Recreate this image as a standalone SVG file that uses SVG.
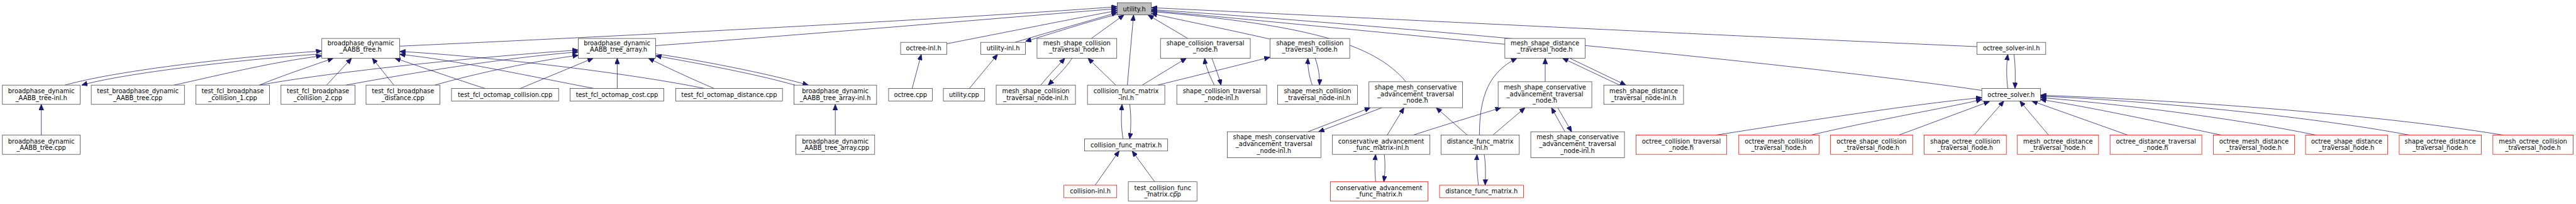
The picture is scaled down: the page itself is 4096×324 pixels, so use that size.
<svg xmlns="http://www.w3.org/2000/svg" width="4096" height="324" viewBox="0 0 4096 324">
<style>
.n rect{fill:#ffffff;stroke:#404040;stroke-width:1}
.r rect{fill:#ffffff;stroke:#ff0000;stroke-width:1}
.g rect{fill:#bfbfbf;stroke:#404040;stroke-width:1}
text{font-family:"DejaVu Sans","Liberation Sans",sans-serif;font-size:13px;fill:#000000;text-anchor:middle}
#edges path{fill:none;stroke:#191970;stroke-width:1;marker-end:url(#ah)}
</style>
<defs>
<marker id="ah" viewBox="0 0 12 10" refX="12" refY="5" markerWidth="12" markerHeight="10" markerUnits="userSpaceOnUse" orient="auto">
<path d="M0,0 L12,5 L0,10 z" fill="#191970" stroke="#191970"/>
</marker>
</defs>
<rect x="0" y="0" width="4096" height="324" fill="#ffffff"/>
<g transform="scale(0.76375)">
<g id="edges">
<path d="M86,281 L86,217"/>
<path d="M135,177 C250,145 500,118 670,106"/>
<path d="M670,112 C500,124 260,152 170,177"/>
<path d="M362,177 C450,158 560,130 670,116"/>
<path d="M540,177 C580,160 640,140 694,121"/>
<path d="M680,177 L732,121"/>
<path d="M820,177 L775,121"/>
<path d="M1010,184 C950,165 880,140 822,121"/>
<path d="M1237,184 C1100,158 950,125 832,113"/>
<path d="M1467,184 C1300,150 1000,116 832,107"/>
<path d="M540,177 C700,148 1000,118 1204,104"/>
<path d="M720,177 C850,153 1050,120 1204,108"/>
<path d="M905,177 C1000,150 1120,126 1204,115"/>
<path d="M1083,184 L1235,121"/>
<path d="M1285,184 L1285,121"/>
<path d="M1487,184 C1430,160 1380,136 1350,121"/>
<path d="M1655,177 C1560,150 1420,126 1365,116"/>
<path d="M1365,112 C1450,124 1600,153 1683,177"/>
<path d="M1739,281 L1739,217"/>
<path d="M832,96 C1400,70 2000,38 2326,14"/>
<path d="M1365,95 C1800,62 2100,36 2326,18"/>
<path d="M1971,91 C2150,56 2250,36 2326,22"/>
<path d="M2113,88 C2200,62 2280,40 2326,26"/>
<path d="M2326,30 C2260,46 2190,70 2135,86"/>
<path d="M2018,184 L2077,113"/>
<path d="M1899,184 L1918,113"/>
<path d="M2272,80 L2340,31"/>
<path d="M2167,177 C2180,160 2200,140 2217,121"/>
<path d="M2232,121 C2220,140 2200,160 2182,177"/>
<path d="M2347,177 L2360,31"/>
<path d="M2323,177 L2265,121"/>
<path d="M2378,177 L2470,121"/>
<path d="M2410,177 C2500,155 2580,135 2644,119"/>
<path d="M2473,80 L2390,31"/>
<path d="M2528,177 C2520,160 2510,140 2508,121"/>
<path d="M2523,121 C2530,140 2538,160 2542,177"/>
<path d="M2643,81 C2550,60 2450,40 2397,28"/>
<path d="M2732,177 C2726,160 2722,140 2723,121"/>
<path d="M2738,121 C2745,140 2748,160 2747,177"/>
<path d="M2338,289 C2334,265 2334,240 2336,217"/>
<path d="M2352,217 C2355,240 2355,265 2352,289"/>
<path d="M2280,385 L2330,314"/>
<path d="M2404,378 L2357,314"/>
<path d="M2927,170 C2860,90 2720,52 2397,24"/>
<path d="M2723,274 L2853,224"/>
<path d="M2877,224 L2745,274"/>
<path d="M2888,281 L2923,224"/>
<path d="M2942,281 C3000,262 3080,238 3125,224"/>
<path d="M2864,378 C2862,355 2862,340 2864,321"/>
<path d="M2882,321 C2884,340 2884,355 2881,378"/>
<path d="M3055,281 L2990,224"/>
<path d="M3080,281 C3080,200 3100,150 3158,121"/>
<path d="M3108,281 L3175,224"/>
<path d="M3078,385 C3075,360 3074,340 3075,321"/>
<path d="M3090,321 C3093,340 3093,360 3092,385"/>
<path d="M3133,92 C2900,70 2600,40 2397,22"/>
<path d="M3372,177 L3253,121"/>
<path d="M3268,121 L3385,177"/>
<path d="M3217,170 L3217,121"/>
<path d="M3258,274 L3230,224"/>
<path d="M3243,224 L3272,274"/>
<path d="M4116,97 C3500,70 2800,35 2397,16"/>
<path d="M4126,188 C3800,140 3000,60 2397,20"/>
<path d="M4180,184 C4177,160 4177,135 4180,113"/>
<path d="M4193,113 C4196,135 4196,160 4195,184"/>
<path d="M3572,281 C3800,245 4000,215 4126,203"/>
<path d="M3770,281 C3900,250 4050,225 4126,207"/>
<path d="M3953,281 L4142,211"/>
<path d="M4110,281 L4172,210"/>
<path d="M4265,281 L4205,210"/>
<path d="M4430,281 L4230,210"/>
<path d="M4625,281 C4500,255 4350,222 4248,207"/>
<path d="M4822,281 C4650,245 4400,215 4248,203"/>
<path d="M5017,281 C4800,240 4450,208 4248,200"/>
<path d="M5212,281 C4900,230 4450,205 4248,198"/>
</g>
<g id="utility_h" class="g"><rect x="2326" y="6" width="71" height="25"/><text x="2361.5" y="23">utility.h</text></g>
<g id="bp_tree_h" class="n"><rect x="670" y="80" width="162" height="41"/><text x="751" y="94">broadphase_dynamic</text><text x="751" y="108">_AABB_tree.h</text></g>
<g id="bp_tree_array_h" class="n"><rect x="1204" y="80" width="161" height="41"/><text x="1284.5" y="94">broadphase_dynamic</text><text x="1284.5" y="108">_AABB_tree_array.h</text></g>
<g id="bp_tree_inl_h" class="n"><rect x="5" y="177" width="162" height="40"/><text x="86" y="194">broadphase_dynamic</text><text x="86" y="208">_AABB_tree-inl.h</text></g>
<g id="bp_tree_cpp" class="n"><rect x="5" y="281" width="162" height="40"/><text x="86" y="298">broadphase_dynamic</text><text x="86" y="312">_AABB_tree.cpp</text></g>
<g id="test_bp_tree_cpp" class="n"><rect x="190" y="177" width="194" height="40"/><text x="287" y="194">test_broadphase_dynamic</text><text x="287" y="208">_AABB_tree.cpp</text></g>
<g id="test_bp_coll1" class="n"><rect x="408" y="177" width="153" height="40"/><text x="484.5" y="194">test_fcl_broadphase</text><text x="484.5" y="208">_collision_1.cpp</text></g>
<g id="test_bp_coll2" class="n"><rect x="585" y="177" width="154" height="40"/><text x="662" y="194">test_fcl_broadphase</text><text x="662" y="208">_collision_2.cpp</text></g>
<g id="test_bp_dist" class="n"><rect x="762" y="177" width="154" height="40"/><text x="839" y="194">test_fcl_broadphase</text><text x="839" y="208">_distance.cpp</text></g>
<g id="test_octo_coll" class="n"><rect x="940" y="184" width="223" height="26"/><text x="1051.5" y="201.5">test_fcl_octomap_collision.cpp</text></g>
<g id="test_octo_cost" class="n"><rect x="1187" y="184" width="195" height="26"/><text x="1284.5" y="201.5">test_fcl_octomap_cost.cpp</text></g>
<g id="test_octo_dist" class="n"><rect x="1407" y="184" width="222" height="26"/><text x="1518" y="201.5">test_fcl_octomap_distance.cpp</text></g>
<g id="bp_tree_array_inl_h" class="n"><rect x="1653" y="177" width="172" height="40"/><text x="1739" y="194">broadphase_dynamic</text><text x="1739" y="208">_AABB_tree_array-inl.h</text></g>
<g id="bp_tree_array_cpp" class="n"><rect x="1657" y="281" width="164" height="40"/><text x="1739" y="298">broadphase_dynamic</text><text x="1739" y="312">_AABB_tree_array.cpp</text></g>
<g id="octree_inl_h" class="n"><rect x="1875" y="88" width="96" height="25"/><text x="1923" y="105">octree-inl.h</text></g>
<g id="octree_cpp" class="n"><rect x="1850" y="184" width="91" height="26"/><text x="1895.5" y="201.5">octree.cpp</text></g>
<g id="utility_inl_h" class="n"><rect x="2042" y="88" width="93" height="25"/><text x="2088.5" y="105">utility-inl.h</text></g>
<g id="utility_cpp" class="n"><rect x="1964" y="184" width="86" height="26"/><text x="2007" y="201.5">utility.cpp</text></g>
<g id="msc_h" class="n"><rect x="2159" y="80" width="166" height="41"/><text x="2242" y="94">mesh_shape_collision</text><text x="2242" y="108">_traversal_node.h</text></g>
<g id="msc_inl_h" class="n"><rect x="2074" y="177" width="165" height="40"/><text x="2156.5" y="194">mesh_shape_collision</text><text x="2156.5" y="208">_traversal_node-inl.h</text></g>
<g id="collision_inl_h" class="r"><rect x="2215" y="385" width="110" height="26"/><text x="2270" y="402.5">collision-inl.h</text></g>
<g id="cfm_inl_h" class="n"><rect x="2264" y="177" width="161" height="40"/><text x="2344.5" y="194">collision_func_matrix</text><text x="2344.5" y="208">-inl.h</text></g>
<g id="sc_h" class="n"><rect x="2416" y="80" width="187" height="41"/><text x="2509.5" y="94">shape_collision_traversal</text><text x="2509.5" y="108">_node.h</text></g>
<g id="sc_inl_h" class="n"><rect x="2450" y="177" width="187" height="40"/><text x="2543.5" y="194">shape_collision_traversal</text><text x="2543.5" y="208">_node-inl.h</text></g>
<g id="smc_h" class="n"><rect x="2644" y="80" width="166" height="41"/><text x="2727" y="94">shape_mesh_collision</text><text x="2727" y="108">_traversal_node.h</text></g>
<g id="smc_inl_h" class="n"><rect x="2660" y="177" width="166" height="40"/><text x="2743" y="194">shape_mesh_collision</text><text x="2743" y="208">_traversal_node-inl.h</text></g>
<g id="cfm_h" class="n"><rect x="2258" y="289" width="173" height="25"/><text x="2344.5" y="306">collision_func_matrix.h</text></g>
<g id="test_cfm_cpp" class="n"><rect x="2349" y="378" width="143" height="40"/><text x="2420.5" y="395">test_collision_func</text><text x="2420.5" y="409">_matrix.cpp</text></g>
<g id="smca_inl_h" class="n"><rect x="2555" y="274" width="195" height="54"/><text x="2652.5" y="290">shape_mesh_conservative</text><text x="2652.5" y="304">_advancement_traversal</text><text x="2652.5" y="318">_node-inl.h</text></g>
<g id="smca_h" class="n"><rect x="2850" y="170" width="195" height="54"/><text x="2947.5" y="186">shape_mesh_conservative</text><text x="2947.5" y="200">_advancement_traversal</text><text x="2947.5" y="214">_node.h</text></g>
<g id="cafm_inl_h" class="n"><rect x="2774" y="281" width="203" height="40"/><text x="2875.5" y="298">conservative_advancement</text><text x="2875.5" y="312">_func_matrix-inl.h</text></g>
<g id="cafm_h" class="r"><rect x="2770" y="378" width="203" height="40"/><text x="2871.5" y="395">conservative_advancement</text><text x="2871.5" y="409">_func_matrix.h</text></g>
<g id="dfm_inl_h" class="n"><rect x="3000" y="281" width="163" height="40"/><text x="3081.5" y="298">distance_func_matrix</text><text x="3081.5" y="312">-inl.h</text></g>
<g id="dfm_h" class="r"><rect x="2997" y="385" width="175" height="26"/><text x="3084.5" y="402.5">distance_func_matrix.h</text></g>
<g id="msd_h" class="n"><rect x="3133" y="80" width="167" height="41"/><text x="3216.5" y="94">mesh_shape_distance</text><text x="3216.5" y="108">_traversal_node.h</text></g>
<g id="msca_h" class="n"><rect x="3119" y="170" width="195" height="54"/><text x="3216.5" y="186">mesh_shape_conservative</text><text x="3216.5" y="200">_advancement_traversal</text><text x="3216.5" y="214">_node.h</text></g>
<g id="msd_inl_h" class="n"><rect x="3339" y="177" width="166" height="40"/><text x="3422" y="194">mesh_shape_distance</text><text x="3422" y="208">_traversal_node-inl.h</text></g>
<g id="msca_inl_h" class="n"><rect x="3187" y="274" width="195" height="54"/><text x="3284.5" y="290">mesh_shape_conservative</text><text x="3284.5" y="304">_advancement_traversal</text><text x="3284.5" y="318">_node-inl.h</text></g>
<g id="octree_collision_tn" class="r"><rect x="3406" y="281" width="189" height="40"/><text x="3500.5" y="298">octree_collision_traversal</text><text x="3500.5" y="312">_node.h</text></g>
<g id="octree_mesh_collision_tn" class="r"><rect x="3620" y="281" width="167" height="40"/><text x="3703.5" y="298">octree_mesh_collision</text><text x="3703.5" y="312">_traversal_node.h</text></g>
<g id="octree_shape_collision_tn" class="r"><rect x="3811" y="281" width="171" height="40"/><text x="3896.5" y="298">octree_shape_collision</text><text x="3896.5" y="312">_traversal_node.h</text></g>
<g id="shape_octree_collision_tn" class="r"><rect x="4006" y="281" width="171" height="40"/><text x="4091.5" y="298">shape_octree_collision</text><text x="4091.5" y="312">_traversal_node.h</text></g>
<g id="mesh_octree_distance_tn" class="r"><rect x="4200" y="281" width="169" height="40"/><text x="4284.5" y="298">mesh_octree_distance</text><text x="4284.5" y="312">_traversal_node.h</text></g>
<g id="octree_distance_tn" class="r"><rect x="4393" y="281" width="191" height="40"/><text x="4488.5" y="298">octree_distance_traversal</text><text x="4488.5" y="312">_node.h</text></g>
<g id="octree_mesh_distance_tn" class="r"><rect x="4608" y="281" width="169" height="40"/><text x="4692.5" y="298">octree_mesh_distance</text><text x="4692.5" y="312">_traversal_node.h</text></g>
<g id="octree_shape_distance_tn" class="r"><rect x="4800" y="281" width="171" height="40"/><text x="4885.5" y="298">octree_shape_distance</text><text x="4885.5" y="312">_traversal_node.h</text></g>
<g id="shape_octree_distance_tn" class="r"><rect x="4995" y="281" width="171" height="40"/><text x="5080.5" y="298">shape_octree_distance</text><text x="5080.5" y="312">_traversal_node.h</text></g>
<g id="mesh_octree_collision_tn" class="r"><rect x="5190" y="281" width="167" height="40"/><text x="5273.5" y="298">mesh_octree_collision</text><text x="5273.5" y="312">_traversal_node.h</text></g>
<g id="octree_solver_inl_h" class="n"><rect x="4116" y="88" width="143" height="25"/><text x="4187.5" y="105">octree_solver-inl.h</text></g>
<g id="octree_solver_h" class="n"><rect x="4126" y="184" width="122" height="26"/><text x="4187" y="201.5">octree_solver.h</text></g>
</g>
</svg>
